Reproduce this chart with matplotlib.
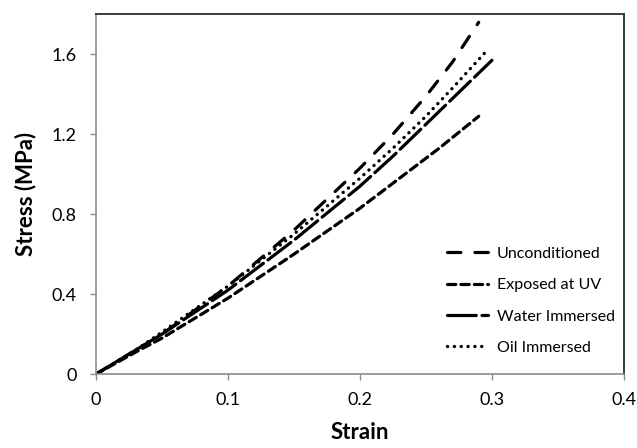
import matplotlib
matplotlib.use("Agg")
import matplotlib.pyplot as plt

plt.rcParams['font.family'] = ['Lato', 'DejaVu Sans']

strain_unc = [0, 0.03, 0.05, 0.10, 0.15, 0.20, 0.225, 0.25, 0.27, 0.29]
stress_unc = [0, 0.12, 0.20, 0.44, 0.72, 1.03, 1.20, 1.39, 1.56, 1.76]
strain_uv = [0, 0.03, 0.05, 0.10, 0.125, 0.15, 0.20, 0.23, 0.26, 0.29]
stress_uv = [0, 0.11, 0.18, 0.38, 0.49, 0.60, 0.83, 0.98, 1.13, 1.29]
strain_water = [0, 0.03, 0.05, 0.10, 0.15, 0.20, 0.225, 0.25, 0.275, 0.30]
stress_water = [0, 0.12, 0.20, 0.42, 0.67, 0.94, 1.09, 1.25, 1.41, 1.57]
strain_oil = [0, 0.03, 0.05, 0.10, 0.15, 0.20, 0.225, 0.25, 0.27, 0.295]
stress_oil = [0, 0.12, 0.21, 0.44, 0.70, 0.98, 1.13, 1.29, 1.43, 1.61]

labels = ["Unconditioned", "Exposed at UV", "Water Immersed", "Oil Immersed"]

fig = plt.figure(figsize=(6.37, 4.48), dpi=100)
ax = fig.add_axes([0.1502, 0.1645, 0.8294, 0.8036])

lw = 2.3
ax.plot(strain_unc, stress_unc, color='black', lw=lw, dashes=(4.2, 4.4),
        dash_capstyle='round', solid_joinstyle='round', label=labels[0])
ax.plot(strain_uv, stress_uv, color='black', lw=lw, dashes=(2.6, 1.6),
        dash_capstyle='round', label=labels[1])
ax.plot(strain_water, stress_water, color='black', lw=lw, dashes=(9, 1.8),
        dash_capstyle='round', label=labels[2])
ax.plot(strain_oil, stress_oil, color='black', lw=2.4, dashes=(0.05, 2.0),
        dash_capstyle='round', label=labels[3])

ax.set_xlim(0, 0.4)
ax.set_ylim(0, 1.8)
ax.set_xticks([0, 0.1, 0.2, 0.3, 0.4])
ax.set_xticklabels(['0', '0.1', '0.2', '0.3', '0.4'])
ax.set_yticks([0, 0.4, 0.8, 1.2, 1.6])
ax.set_yticklabels(['0', '0.4', '0.8', '1.2', '1.6'])
ax.tick_params(direction='out', length=4.5, width=1, color='#8c8c8c',
               labelsize=13, labelcolor='black')
ax.tick_params(axis='y', pad=9)
ax.tick_params(axis='x', pad=8)
for side in ['left', 'bottom']:
    ax.spines[side].set_color('#8c8c8c')
    ax.spines[side].set_linewidth(1.2)
for side in ['top', 'right']:
    ax.spines[side].set_color('#3a3a3a')
    ax.spines[side].set_linewidth(1.4)

ax.set_xlabel('Strain', fontsize=16, fontweight='bold', labelpad=10)
ax.set_ylabel('Stress (MPa)', fontsize=16, fontweight='bold', labelpad=11)

leg = ax.legend(loc='upper left', bbox_to_anchor=(446.7 / 637, 1 - 246.5 / 448),
                bbox_transform=fig.transFigure, frameon=False, borderpad=0,
                borderaxespad=0, fontsize=11.5, handlelength=2.6,
                labelspacing=1.08, handletextpad=0.55)

fig.savefig('out.png', dpi=100)
